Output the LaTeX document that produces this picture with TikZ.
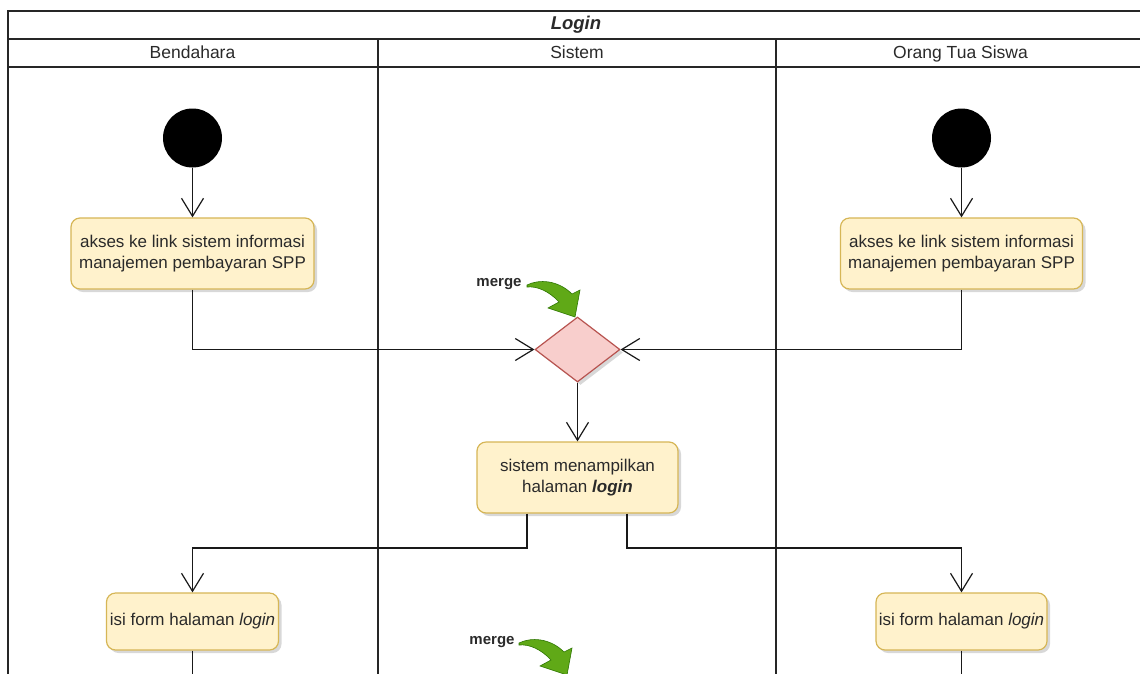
\documentclass[tikz,border=0pt]{standalone}
\usepackage{fontspec}
\setmainfont{Liberation Sans}
\usetikzlibrary{arrows.meta,shapes.geometric,shadows}
\definecolor{actfill}{HTML}{FFF2CC}
\definecolor{actline}{HTML}{D6B656}
\definecolor{decfill}{HTML}{F8CECC}
\definecolor{decline}{HTML}{B85450}
\definecolor{gfill}{HTML}{60A917}
\definecolor{gline}{HTML}{2D7600}
\definecolor{txt}{HTML}{2A2A2A}
\tikzset{
  garrow/.pic={
    \filldraw[fill=gfill, draw=gline, line width=0.6pt]
      (0,0) .. controls (12,-6) and (31,-5) .. (45,9)
      -- (53,5) -- (48,32) -- (21,23) -- (32,17)
      .. controls (22,6) and (10,1) .. (0,2) -- cycle;
  }
}
\begin{document}
\begin{tikzpicture}[x=1pt,y=-1pt,
  lane/.style={draw=black!85, line width=1.4pt},
  startnode/.style={circle, fill=black, minimum size=59pt, inner sep=0pt},
  act/.style={rectangle, rounded corners=9pt, draw=actline, fill=actfill, line width=1.2pt,
    align=center, text=txt, font=\fontsize{17}{21}\selectfont, inner sep=0pt,
    drop shadow={shadow xshift=3pt, shadow yshift=-3pt, opacity=0.3}},
  dec/.style={diamond, draw=decline, fill=decfill, line width=1.2pt, minimum width=85pt,
    minimum height=65pt, inner sep=0pt,
    drop shadow={shadow xshift=3pt, shadow yshift=-3pt, opacity=0.3}},
  conn/.style={draw=black!90, line width=1.2pt, -{Straight Barb[length=18pt,width=22pt,line width=1.2pt]}},
  plain/.style={draw=black!90, line width=1.2pt},
  lbl/.style={font=\fontsize{15}{18}\selectfont\bfseries, text=txt},
  hdr/.style={font=\fontsize{17.5}{20}\selectfont, text=txt, text height=12.5pt, text depth=0pt}
]
\useasboundingbox (0,0) rectangle (1140,673);
\clip (0,0) rectangle (1140,673);
\fill[white] (0,0) rectangle (1140,673);

% frame
\draw[lane] (8,700) -- (8,11) -- (1150,11);
\draw[lane] (8,39) -- (1150,39);
\draw[lane] (8,67) -- (1150,67);
\draw[lane] (378,39) -- (378,700);
\draw[lane] (776,39) -- (776,700);

\node[font=\fontsize{18.5}{20}\selectfont\bfseries\itshape, text=txt, text height=13pt, text depth=0pt] (title) at (576,23) {Login};
\node[hdr] (h1) at (192.5,52) {Bendahara};
\node[hdr] (h2) at (577,52) {Sistem};
\node[hdr] (h3) at (960.5,52) {Orang Tua Siswa};

% nodes
\node[startnode] (start1) at (192.5,138) {};
\node[startnode] (start2) at (961.5,138) {};
\node[act, minimum width=243pt, minimum height=71pt] (a1) at (192.5,253.5)
  {akses ke link sistem informasi\\manajemen pembayaran SPP};
\node[act, minimum width=242pt, minimum height=71pt] (a2) at (961.5,253.5)
  {akses ke link sistem informasi\\manajemen pembayaran SPP};
\node[dec] (m1) at (577.5,349.5) {};
\node[act, minimum width=201pt, minimum height=71pt] (s1) at (577.5,477.5)
  {sistem menampilkan\\halaman \textbf{\textit{login}}};
\node[act, minimum width=172pt, minimum height=57pt] (f1) at (192.5,621.5)
  {isi form halaman \textit{login}};
\node[act, minimum width=171pt, minimum height=57pt] (f2) at (961.5,621.5)
  {isi form halaman \textit{login}};

\node[lbl] (ml1) at (499,284) {merge};
\node[lbl] (ml2) at (492,642) {merge};
\pic at (527,285) {garrow};
\pic at (519,643) {garrow};

\coordinate (e1) at (192.5,700);
\coordinate (e2) at (961.5,700);
\coordinate (b1) at (527,548);
\coordinate (b2) at (627,548);

% connectors
\draw[conn] (start1) -- (a1);
\draw[conn] (start2) -- (a2);
\draw[conn] (a1.south) |- (m1.west);
\draw[conn] (a2.south) |- (m1.east);
\draw[conn] (m1.south) -- (s1.north);
\draw[conn] (s1.south -| b1) -- (b1) -| (f1.north);
\draw[conn] (s1.south -| b2) -- (b2) -| (f2.north);
\draw[plain] (f1.south) -- (e1);
\draw[plain] (f2.south) -- (e2);
\end{tikzpicture}
\end{document}
